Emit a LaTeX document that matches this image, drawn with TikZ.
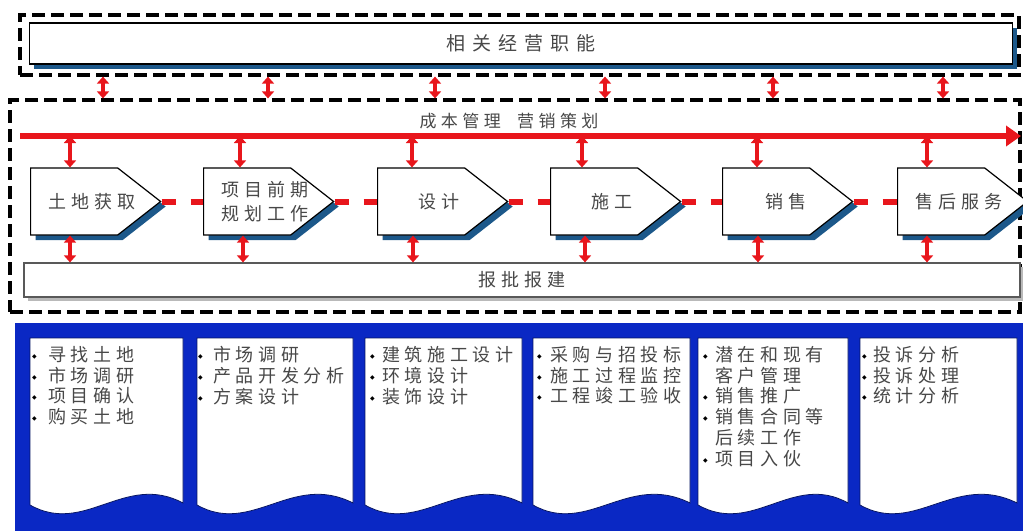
\documentclass[tikz,border=0pt]{standalone}
\usepackage{fontspec}
\newfontfamily\cjk[LetterSpace=26]{Noto Sans CJK SC}
\newfontfamily\cjkw[LetterSpace=36]{Noto Sans CJK SC}
\newfontfamily\dejavu{DejaVu Sans}
\usetikzlibrary{arrows.meta,shapes.symbols,shadows,calc}
\definecolor{myred}{RGB}{232,22,28}
\definecolor{shblue}{RGB}{28,88,138}
\definecolor{bgblue}{RGB}{10,40,196}
\definecolor{txtgray}{RGB}{72,72,72}
\newcommand\bul[1]{\makebox[#1][l]{\raisebox{3pt}{\dejavu\fontsize{6}{6}\selectfont\color{black}◆}}}
\tikzset{
  dashbox/.style={draw=black, line width=3.2, dash pattern=on 13pt off 6pt, inner sep=0},
  stage/.style={signal, signal to=east, signal pointer angle=76, draw=black, line width=1.2,
    fill=white, minimum width=130, minimum height=67, inner sep=0,
    general shadow={fill=shblue, shadow xshift=5pt, shadow yshift=-5pt}},
  stagetext/.style={inner sep=0, text=txtgray, align=left,
    font=\cjk\fontsize{18}{24}\selectfont},
  dbl/.style={myred, line width=4.5, {Triangle[width=12pt,length=7pt]}-{Triangle[width=12pt,length=7pt]}},
  flow/.style={myred, line width=6, dash pattern=on 14pt off 15pt},
  doctext/.style={anchor=north west, inner sep=0, align=left, text=txtgray,
    font=\cjk\fontsize{18}{20.8}\selectfont},
}
\newcommand\docpage[2]{%
  \filldraw[fill=white, draw=bgblue!50!black, line width=0.8]
    (#1,338) -- (#2,338) -- (#2,503)
    .. controls (#1+95,472) and (#1+55,536) .. (#1,505) -- cycle;}
\begin{document}
\begin{tikzpicture}[x=1pt,y=-1pt]
\useasboundingbox (0,0) rectangle (1023,531);
% top area
\node[dashbox, minimum width=999, minimum height=60] (outerA) at (519.5,45) {};
\node[draw=black, line width=1.5, fill=white, minimum width=983, minimum height=41, inner sep=0,
  text=txtgray, font=\cjkw\fontsize{19}{23}\selectfont,
  general shadow={fill=shblue, shadow xshift=4pt, shadow yshift=-5pt}] (func) at (521,43.5) {相关经营职能};
% middle area
\node[dashbox, minimum width=1010, minimum height=212] (outerB) at (515,206) {};
\foreach \x in {103,268,435,605,773,943}
  \draw[dbl] (\x,0 |- outerA.south) -- (\x,0 |- outerB.north);
\coordinate (redL) at (20,136);
\coordinate (redR) at (1021,136);
\draw[myred, line width=6, -{Triangle[width=20pt,length=15pt]}] (redL) -- (redR);
\node[text=txtgray, font=\cjk\fontsize{17}{20}\selectfont, inner sep=0] (cost) at (509,121) {成本管理\ \ 营销策划};
\node[stage, anchor=west] (b1) at (30,201.5) {};
\node[stage, anchor=west] (b2) at (203,201.5) {};
\node[stage, anchor=west] (b3) at (377,201.5) {};
\node[stage, anchor=west] (b4) at (550,201.5) {};
\node[stage, anchor=west] (b5) at (722,201.5) {};
\node[stage, anchor=west] (b6) at (897,201.5) {};
\node[stagetext] (l1) at ($(b1.west)+(62,0)$) {土地获取};
\node[stagetext] (l2) at ($(b2.west)+(62,0)$) {项目前期\\规划工作};
\node[stagetext] (l3) at ($(b3.west)+(62,0)$) {设计};
\node[stagetext] (l4) at ($(b4.west)+(62,0)$) {施工};
\node[stagetext] (l5) at ($(b5.west)+(64,0)$) {销售};
\node[stagetext] (l6) at ($(b6.west)+(62,0)$) {售后服务};
\draw[flow] (b1.east) -- (b2.west);
\draw[flow] (b2.east) -- (b3.west);
\draw[flow] (b3.east) -- (b4.west);
\draw[flow] (b4.east) -- (b5.west);
\draw[flow] (b5.east) -- (b6.west);
\node[draw=gray!70!black, line width=1.2, fill=white, minimum width=996, minimum height=34, inner sep=0,
  text=txtgray, font=\cjk\fontsize{18}{22}\selectfont,
  general shadow={fill=gray!55, shadow xshift=4pt, shadow yshift=-4pt}] (bar) at (522,280) {报批报建};
\draw[dbl] (70,0 |- redL) -- (70,0 |- b1.north);
\draw[dbl] (240,0 |- redL) -- (240,0 |- b2.north);
\draw[dbl] (412,0 |- redL) -- (412,0 |- b3.north);
\draw[dbl] (582,0 |- redL) -- (582,0 |- b4.north);
\draw[dbl] (757,0 |- redL) -- (757,0 |- b5.north);
\draw[dbl] (927,0 |- redL) -- (927,0 |- b6.north);
\draw[dbl] (70,0 |- b1.south) -- (70,0 |- bar.north);
\draw[dbl] (243,0 |- b2.south) -- (243,0 |- bar.north);
\draw[dbl] (413,0 |- b3.south) -- (413,0 |- bar.north);
\draw[dbl] (585,0 |- b4.south) -- (585,0 |- bar.north);
\draw[dbl] (758,0 |- b5.south) -- (758,0 |- bar.north);
\draw[dbl] (927,0 |- b6.south) -- (927,0 |- bar.north);
% bottom area
\fill[bgblue] (15,323) rectangle (1023,531);
\docpage{30}{183}
\docpage{197}{353}
\docpage{365}{522}
\docpage{533}{690}
\docpage{698}{848}
\docpage{860}{1017}
\node[doctext] (t1) at (32,346) {\bul{16pt}寻找土地\\\bul{16pt}市场调研\\\bul{16pt}项目确认\\\bul{16pt}购买土地};
\node[doctext] (t2) at (198,346) {\bul{15pt}市场调研\\\bul{15pt}产品开发分析\\\bul{15pt}方案设计};
\node[doctext] (t3) at (370,346) {\bul{12pt}建筑施工设计\\\bul{12pt}环境设计\\\bul{12pt}装饰设计};
\node[doctext] (t4) at (537,346) {\bul{13pt}采购与招投标\\\bul{13pt}施工过程监控\\\bul{13pt}工程竣工验收};
\node[doctext] (t5) at (703,346) {\bul{12pt}潜在和现有\\\hspace*{12pt}客户管理\\\bul{12pt}销售推广\\\bul{12pt}销售合同等\\\hspace*{12pt}后续工作\\\bul{12pt}项目入伙};
\node[doctext] (t6) at (862,346) {\bul{11pt}投诉分析\\\bul{11pt}投诉处理\\\bul{11pt}统计分析};
\end{tikzpicture}
\end{document}
